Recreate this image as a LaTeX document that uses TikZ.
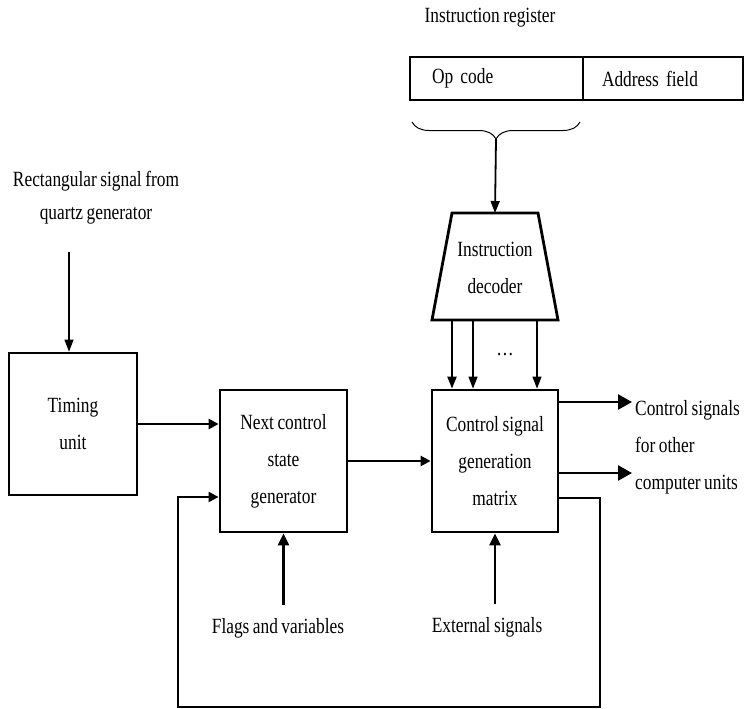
\documentclass[tikz,border=0pt]{standalone}
\usepackage{fontspec}
\setmainfont{Liberation Serif}[FakeStretch=0.8, WordSpace=0.8]
\usetikzlibrary{arrows.meta}
\usetikzlibrary{decorations.pathreplacing}

\begin{document}
\begin{tikzpicture}[x=1pt,y=-1pt]
	\tikzstyle{every node}=[font=\fontsize{21.7}{37}\selectfont, align=center, inner sep=0pt]
	\tikzstyle{block}=[draw, line width=2.8pt, minimum width=127pt, minimum height=142pt]
	\tikzstyle{field}=[draw, line width=2.8pt, minimum height=43pt, align=left]
	\tikzstyle{wire}=[line width=2.6pt, -{Triangle[length=12pt,width=11pt]}]
	\tikzstyle{thinwire}=[line width=1.2pt, -{Triangle[length=12pt,width=9pt]}]
	
	\useasboundingbox (0,0) rectangle (744,709);
	
	% instruction register
	\node (ireg) at (490,18) {Instruction register};
	\node[field, inner xsep=22pt, text width=129pt] (opcode) at (496.5,78.5) {Op code};
	\node[field, inner xsep=19pt, text width=122pt] (addr) at (663,78.5) {Address field};
	\draw[decorate, decoration={brace, mirror, amplitude=17pt}, line width=1pt] (412,122) -- (580,122);
	\coordinate (tip) at (496,139);
	
	% decoder
	\coordinate (decN) at (495,213);
	\coordinate (decS) at (495,320);
	\draw[line width=2.8pt, line join=miter] (432,320) -- (452,213) -- (538,213) -- (558,320) -- cycle;
	\node (dec) at (495,268) {Instruction\\decoder};
	
	% blocks
	\node[block, minimum width=128pt] (timing) at (73,424) {Timing\\unit};
	\node[block] (next) at (283.5,461) {Next control\\state\\generator};
	\node[block, minimum width=126pt] (matrix) at (495,461) {Control signal\\generation\\matrix};
	
	% labels
	\node[font=\fontsize{21.7}{33}\selectfont] (quartz) at (96,198) {Rectangular signal from\\quartz generator};
	\node (flags) at (278,628) {Flags and variables};
	\node (ext) at (487,627) {External signals};
	\node[anchor=west, align=left, inner xsep=3pt] (ctrl) at (632,447) {Control signals\\for other\\computer units};
	\node (dots) at (505,355) {\dots};
	
	% connectors
	\draw[wire, line width=1.8pt, -{Triangle[length=12pt,width=9pt]}] (tip) -- (decN);
	\foreach \dx/\lw in {-43/2.2pt, -22/1.4pt, 42/1.2pt}
		\draw[thinwire, line width=\lw] ([xshift=\dx pt]decS) -- ([xshift=\dx pt]decS |- matrix.north);
	\coordinate (q) at (69,252);
	\draw[thinwire] (q) -- (q |- timing.north);
	\draw[wire, -{Triangle[length=10pt,width=10pt]}] (timing.east) -- (next.west |- timing.east);
	\draw[wire, -{Triangle[length=10pt,width=10pt]}] (next.east) -- (matrix.west);
	\draw[wire, -{Triangle[length=14pt,width=15pt]}] ([yshift=59pt]matrix.east) -- ([yshift=59pt]matrix.east -| ctrl.west);
	\draw[wire, -{Triangle[length=14pt,width=15pt]}] ([yshift=-12pt]matrix.east) -- ([yshift=-12pt]matrix.east -| ctrl.west);
	\draw[wire, shorten <=13pt] (flags.north -| next.south) -- (next.south);
	\draw[wire, shorten <=13pt] (ext.north -| matrix.south) -- (matrix.south);
	\coordinate (loopR) at (600,707);
	\coordinate (loopL) at (178,497);
	\draw[wire, line width=2.2pt, -{Triangle[length=10pt,width=10pt]}] ([yshift=-37pt]matrix.east) -| (loopR) -| (loopL) -- (loopL -| next.west);
\end{tikzpicture}
\end{document}
